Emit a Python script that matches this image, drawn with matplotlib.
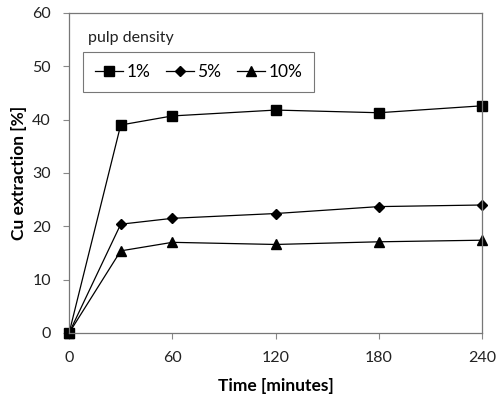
import matplotlib.pyplot as plt
import numpy as np

plt.rcParams['font.family'] = ['Lato', 'DejaVu Sans']

# time in minutes
time = [0, 30, 60, 120, 180, 240]
# Cu extraction (%) per pulp density
cu_1 = [0, 39.0, 40.7, 41.8, 41.3, 42.6]
cu_5 = [0, 20.4, 21.5, 22.4, 23.7, 24.0]
cu_10 = [0, 15.4, 17.0, 16.6, 17.1, 17.4]
labels = ['1%', '5%', '10%']

fig = plt.figure(figsize=(4.97, 4.0), dpi=100)
ax = fig.add_axes([0.139, 0.1675, 0.831, 0.80])

ax.plot(time, cu_1, color='black', lw=0.9, marker='s', ms=6.5, label=labels[0])
ax.plot(time, cu_5, color='black', lw=0.9, marker='D', ms=5.5, label=labels[1])
ax.plot(time, cu_10, color='black', lw=0.9, marker='^', ms=7, label=labels[2])

ax.set_xlim(0, 240)
ax.set_ylim(0, 60)
ax.set_xticks([0, 60, 120, 180, 240])
ax.set_yticks(np.arange(0, 61, 10))
ax.tick_params(direction='out', length=4, color='#888888', labelsize=11.5, labelcolor='#222222')
ax.tick_params(axis='x', pad=9)
ax.tick_params(axis='y', pad=9)
for s in ax.spines.values():
    s.set_color('#777777')
    s.set_linewidth(0.9)

ax.set_xlabel('Time [minutes]', fontsize=12.5, fontweight='bold', labelpad=9)
ax.set_ylabel('Cu extraction [%]', fontsize=12.5, fontweight='bold', labelpad=4)

# clip off so markers on the edges show fully
for ln in ax.lines:
    ln.set_clip_on(False)

leg = ax.legend(loc='upper left', bbox_to_anchor=(0.034, 0.878), ncol=3, frameon=True,
                fancybox=False, edgecolor='#555555', fontsize=12.5, handlelength=1.6,
                handletextpad=0.2, columnspacing=0.9, borderpad=0.7, borderaxespad=0)
leg.get_frame().set_linewidth(0.8)
ax.text(0.045, 0.9, 'pulp density', transform=ax.transAxes, fontsize=11.5,
        color='#222222', va='bottom')

fig.savefig('out.png', dpi=100)
